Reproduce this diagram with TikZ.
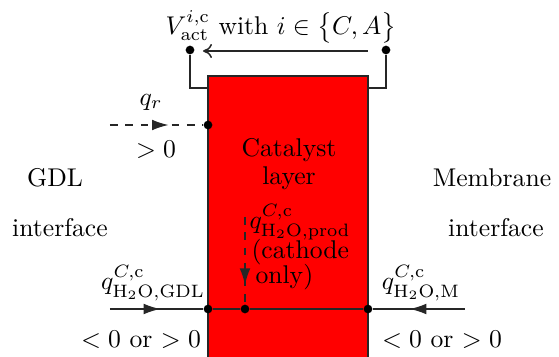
\documentclass[tikz,border=0pt]{standalone}
\usetikzlibrary{arrows.meta,decorations.markings}
\begin{document}
\begin{tikzpicture}[x=0.39pt,y=-0.39pt,
  wire/.style={draw=black!85,line width=0.6pt},
  flow/.style={wire,postaction={decorate},decoration={markings,
     mark=at position #1 with {\arrow{Latex[length=6.5pt,width=4.2pt]}}}},
  dot/.style={circle,fill=black,inner sep=0pt,minimum size=3.4pt},
  lbl/.style={inner sep=0pt}]
\useasboundingbox (0,0) rectangle (559,357);
% catalyst layer
\fill[red] (208,76) rectangle (368,357);
\draw[wire] (208,357) -- (208,76) -- (368,76) -- (368,357);
% top voltage wiring
\node[dot] (tl) at (190,50) {};
\node[dot] (tr) at (386,50) {};
\coordinate (tlb) at (190,88);
\coordinate (trb) at (386,88);
\coordinate (rl) at (208,88);
\coordinate (rr) at (368,88);
\draw[wire] (tl) -- (tlb) -- (rl);
\draw[wire] (tr) -- (trb) -- (rr);
\coordinate (va) at (368,51);
\coordinate (vb) at (203,51);
\draw[wire,-{To[length=3.5pt,width=5.5pt]}] (va) -- (vb);
\node[lbl] (vlab) at (281,27) {$V^{i,\mathrm{c}}_{\mathrm{act}}$ with $i\in\big\{C,A\big\}$};
% q_r
\coordinate (qrs) at (110,125);
\node[dot] (qrd) at (208,125) {};
\draw[flow=0.63,dashed] (qrs) -- (qrd);
\node[lbl] (qrl) at (151,102) {$q_r$};
\node[lbl] (qrv) at (156,150) {$>0$};
% catalyst text
\node[lbl] (cat) at (289,150) {Catalyst};
\node[lbl] (lay) at (289,178) {layer};
\node[lbl] (gdl) at (55,178) {GDL};
\node[lbl] (gif) at (60,228) {interface};
\node[lbl] (mem) at (492,178) {Membrane};
\node[lbl] (mif) at (496,228) {interface};
% bottom line
\coordinate (gs) at (110,309);
\node[dot] (gd) at (208,309) {};
\node[dot] (pd) at (245,309) {};
\node[dot] (md) at (368,309) {};
\coordinate (ms) at (465,309);
\draw[flow=0.54] (gs) -- (gd);
\draw[wire] (gd) -- (pd) -- (md);
\draw[flow=0.6] (ms) -- (md);
\coordinate (ps) at (245,217);
\draw[flow=0.78,dashed] (ps) -- (pd);
% bottom labels
\node[lbl] (gq) at (153,283) {$q^{C,\mathrm{c}}_{\mathrm{H_2O},\mathrm{GDL}}$};
\node[lbl] (gv) at (141,340) {$<0$ or $>0$};
\node[lbl] (mq) at (421,283) {$q^{C,\mathrm{c}}_{\mathrm{H_2O},\mathrm{M}}$};
\node[lbl] (mv) at (442,340) {$<0$ or $>0$};
\node[lbl,anchor=west] (pq) at (249,222) {$q^{C,\mathrm{c}}_{\mathrm{H_2O},\mathrm{prod}}$};
\node[lbl,anchor=west] (pc) at (251,252) {(cathode};
\node[lbl,anchor=west] (po) at (255,277) {only)};
\end{tikzpicture}
\end{document}
